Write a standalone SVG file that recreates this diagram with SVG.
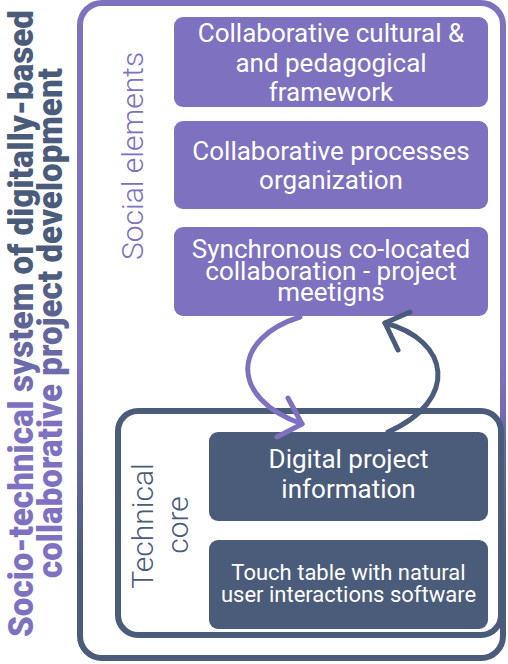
<svg xmlns="http://www.w3.org/2000/svg" width="508" height="664" viewBox="0 0 508 664">
  <defs>
    <linearGradient id="frameGrad" gradientUnits="userSpaceOnUse" x1="0" y1="0" x2="0" y2="664">
      <stop offset="0" stop-color="#7e71c0"/>
      <stop offset="0.55" stop-color="#7e71c0"/>
      <stop offset="0.85" stop-color="#4b5b7a"/>
      <stop offset="1" stop-color="#4b5b7a"/>
    </linearGradient>
    <linearGradient id="titleGrad" gradientUnits="userSpaceOnUse" x1="0" y1="0" x2="-664" y2="0">
      <stop offset="0" stop-color="#4b5b7a"/>
      <stop offset="0.4" stop-color="#4b5b7a"/>
      <stop offset="0.62" stop-color="#7e71c0"/>
      <stop offset="1" stop-color="#7e71c0"/>
    </linearGradient>
    <style>
      .purple { fill: #7e71c0; }
      .dark { fill: #4b5b7a; }
      .btxt { font-family: Roboto, "Liberation Sans", sans-serif; fill: #ffffff; text-anchor: middle; }
      .title { font-family: Roboto, "Liberation Sans", sans-serif; font-weight: 900; font-size: 35px; fill: url(#titleGrad); text-anchor: middle; }
      .lbl { font-family: Roboto, "Liberation Sans", sans-serif; font-weight: 300; font-size: 30px; text-anchor: middle; }
      .arrow { fill: none; stroke-width: 5; stroke-linecap: round; stroke-linejoin: round; }
    </style>
  </defs>

  <g id="title">
    <text class="title" transform="rotate(-90)" x="-323.5" y="33" textLength="627" lengthAdjust="spacingAndGlyphs">Socio-technical system of digitally-based</text>
    <text class="title" transform="rotate(-90)" x="-323" y="62" textLength="510" lengthAdjust="spacingAndGlyphs">collaborative project development</text>
  </g>

  <g id="social-elements">
    <rect x="80" y="3" width="423" height="655" rx="22" fill="#ffffff" stroke="url(#frameGrad)" stroke-width="6"/>
    <text class="lbl" transform="rotate(-90)" x="-156" y="143" fill="#7e71c0">Social elements</text>
  </g>

  <g id="technical-core">
    <rect x="118" y="411" width="383" height="224" rx="20" fill="#ffffff" stroke="#4b5b7a" stroke-width="6"/>
    <text class="lbl" transform="rotate(-90)" x="-526" y="153" fill="#4b5b7a">Technical</text>
    <text class="lbl" transform="rotate(-90)" x="-525" y="188" fill="#4b5b7a">core</text>
  </g>

  <g id="node-framework">
    <rect class="purple" x="174" y="17" width="314" height="90" rx="9"/>
    <text class="btxt" font-size="26" x="331" y="42">Collaborative cultural &amp;</text>
    <text class="btxt" font-size="26" x="331" y="72">and pedagogical</text>
    <text class="btxt" font-size="26" x="331" y="101">framework</text>
  </g>

  <g id="node-processes">
    <rect class="purple" x="174" y="121" width="314" height="88" rx="9"/>
    <text class="btxt" font-size="26" x="331" y="160">Collaborative processes</text>
    <text class="btxt" font-size="26" x="331" y="189">organization</text>
  </g>

  <g id="node-meetings">
    <rect class="purple" x="174" y="227" width="314" height="89" rx="9"/>
    <text class="btxt" font-size="26" x="331" y="258">Synchronous co-located</text>
    <text class="btxt" font-size="26" x="331" y="280">collaboration - project</text>
    <text class="btxt" font-size="26" x="331" y="301">meetigns</text>
  </g>

  <g id="node-digital-info">
    <rect class="dark" x="209" y="432" width="279" height="89" rx="9"/>
    <text class="btxt" font-size="26" x="348.5" y="468">Digital project</text>
    <text class="btxt" font-size="26" x="348.5" y="498">information</text>
  </g>

  <g id="node-touch-table">
    <rect class="dark" x="209" y="540" width="279" height="89" rx="9"/>
    <text class="btxt" font-size="22" x="348.5" y="580">Touch table with natural</text>
    <text class="btxt" font-size="22" x="348.5" y="602">user interactions software</text>
  </g>

  <g id="connectors">
    <path class="arrow" stroke="#4b5b7a" d="M388 432 C460 400 450 340 385 323"/>
    <polyline class="arrow" stroke="#4b5b7a" points="410,312 385,323 398,350"/>
    <path class="arrow" stroke="#7e71c0" d="M300 317 C232 338 228 398 302 424"/>
    <polyline class="arrow" stroke="#7e71c0" points="288,398 302,424 277,437"/>
  </g>
</svg>
